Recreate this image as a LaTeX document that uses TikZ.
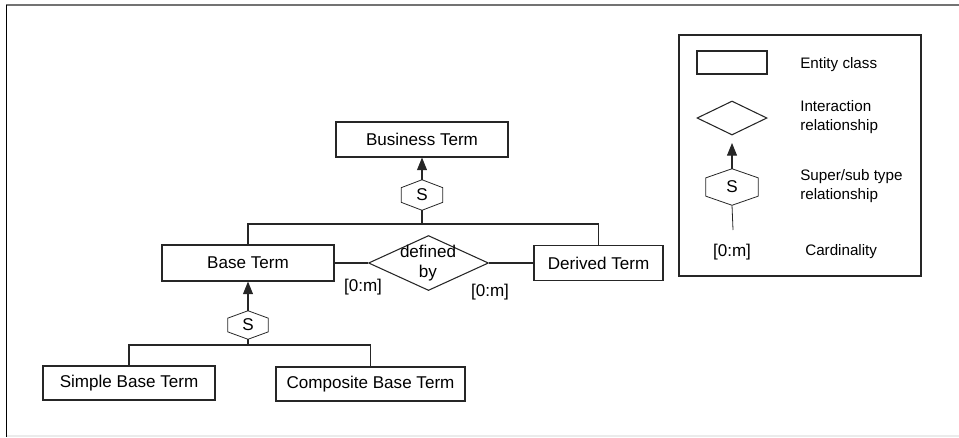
\documentclass[tikz,border=0pt]{standalone}
\usepackage{fontspec}
\setmainfont{Liberation Sans}
\usetikzlibrary{shapes.geometric,arrows.meta,calc}

\tikzset{
  ln/.style={line width=0.8pt, draw=black!85},
  entity/.style={ln, rectangle, inner sep=0pt, font=\fontsize{12.8}{15}\selectfont},
  relshape/.style={ln, diamond, inner sep=0pt},
  hexnode/.style={rectangle, inner sep=0pt, font=\fontsize{12.8}{15}\selectfont},
  isa/.style={ln, -{Triangle[length=9.5pt,width=7.5pt]}},
  card/.style={inner sep=0pt, font=\fontsize{12.8}{15}\selectfont},
  legtext/.style={inner sep=0pt, anchor=west, align=left, font=\fontsize{11.4}{14.25}\selectfont},
}

% hexagon outline around a named node
\newcommand{\hexoutline}[2][0.26]{%
  \draw[ln, line width=0.6pt] (#2.north)
    -- ($(#2.north east)!#1!(#2.south east)$)
    -- ($(#2.north east)!{1-#1}!(#2.south east)$)
    -- (#2.south)
    -- ($(#2.north west)!{1-#1}!(#2.south west)$)
    -- ($(#2.north west)!#1!(#2.south west)$)
    -- cycle;}

\begin{document}
\begin{tikzpicture}[x=0.75pt, y=-0.75pt]
  \useasboundingbox (0,0) rectangle (959,437);

  % page frame
  \draw[black!55, line width=0.9pt] (6,5) -- (959,5);
  \draw[black, line width=1pt] (6.5,5) -- (6.5,437);
  \draw[black!8, line width=0.8pt] (7,436) -- (959,436);

  % entity classes
  \node[entity, minimum width=172*0.75pt, minimum height=35*0.75pt] (bt) at (422,139.5) {Business Term};
  \node[entity, minimum width=172*0.75pt, minimum height=36*0.75pt] (base) at (248,263) {Base Term};
  \node[entity, minimum width=129*0.75pt, minimum height=35*0.75pt] (der) at (598.5,263) {Derived Term};
  \node[entity, minimum width=172*0.75pt, minimum height=34*0.75pt] (simple) at (129,383) {Simple Base Term};
  \node[entity, minimum width=189*0.75pt, minimum height=34*0.75pt] (comp) at (370.5,384) {Composite Base Term};

  % interaction relationship
  \node[relshape, minimum width=120*0.75pt, minimum height=55*0.75pt] (rel) at (428.5,263) {};
  \node[inner sep=0pt, align=center, font=\fontsize{12.8}{15}\selectfont] (reltext) at (428,263) {defined\\by};
  \draw[ln] (base.east) -- (rel.west);
  \draw[ln] (rel.east) -- (der.west);
  \node[card] (c1) at (363,287) {[0:m]};
  \node[card] (c2) at (490,292) {[0:m]};

  % super/sub type: Business Term
  \node[hexnode, minimum width=41*0.75pt, minimum height=30*0.75pt] (hxA) at (422,195) {S};
  \hexoutline{hxA}
  \coordinate (jA) at (422,224);
  \draw[isa] (hxA.north) -- (bt.south);
  \draw[ln] (hxA.south) -- (jA);
  \draw[ln] (base.north) |- (jA) -| (der.north);

  % super/sub type: Base Term
  \node[hexnode, minimum width=40*0.75pt, minimum height=28*0.75pt] (hxB) at (248,325) {S};
  \hexoutline{hxB}
  \coordinate (jB) at (248,345);
  \draw[isa] (hxB.north) -- (base.south);
  \draw[ln] (hxB.south) -- (jB);
  \draw[ln] (simple.north) |- (jB) -| (comp.north);

  % legend
  \node[ln, rectangle, inner sep=0pt, minimum width=242*0.75pt, minimum height=241*0.75pt] (legend) at (800,155.5) {};
  \node[entity, minimum width=70*0.75pt, minimum height=23*0.75pt] (legent) at (732,62.5) {};
  \node[legtext] (legentT) at (800,65) {Entity class};
  \node[relshape, minimum width=70*0.75pt, minimum height=34*0.75pt] (legrel) at (732,118) {};
  \node[legtext] (legrelT) at (800,117.5) {Interaction\\relationship};
  \node[hexnode, minimum width=52*0.75pt, minimum height=36*0.75pt] (hxL) at (732,187) {S};
  \hexoutline[0.25]{hxL}
  \coordinate (legtip) at (732,143);
  \coordinate (legtail) at (733,230);
  \draw[isa] (hxL.north) -- (legtip);
  \draw[ln, line width=0.6pt] (hxL.south) -- (legtail);
  \node[legtext] (legisaT) at (800,186.5) {Super/sub type\\relationship};
  \node[card] (legcard) at (732,252) {[0:m]};
  \node[legtext] (legcardT) at (805,252) {Cardinality};
\end{tikzpicture}
\end{document}
